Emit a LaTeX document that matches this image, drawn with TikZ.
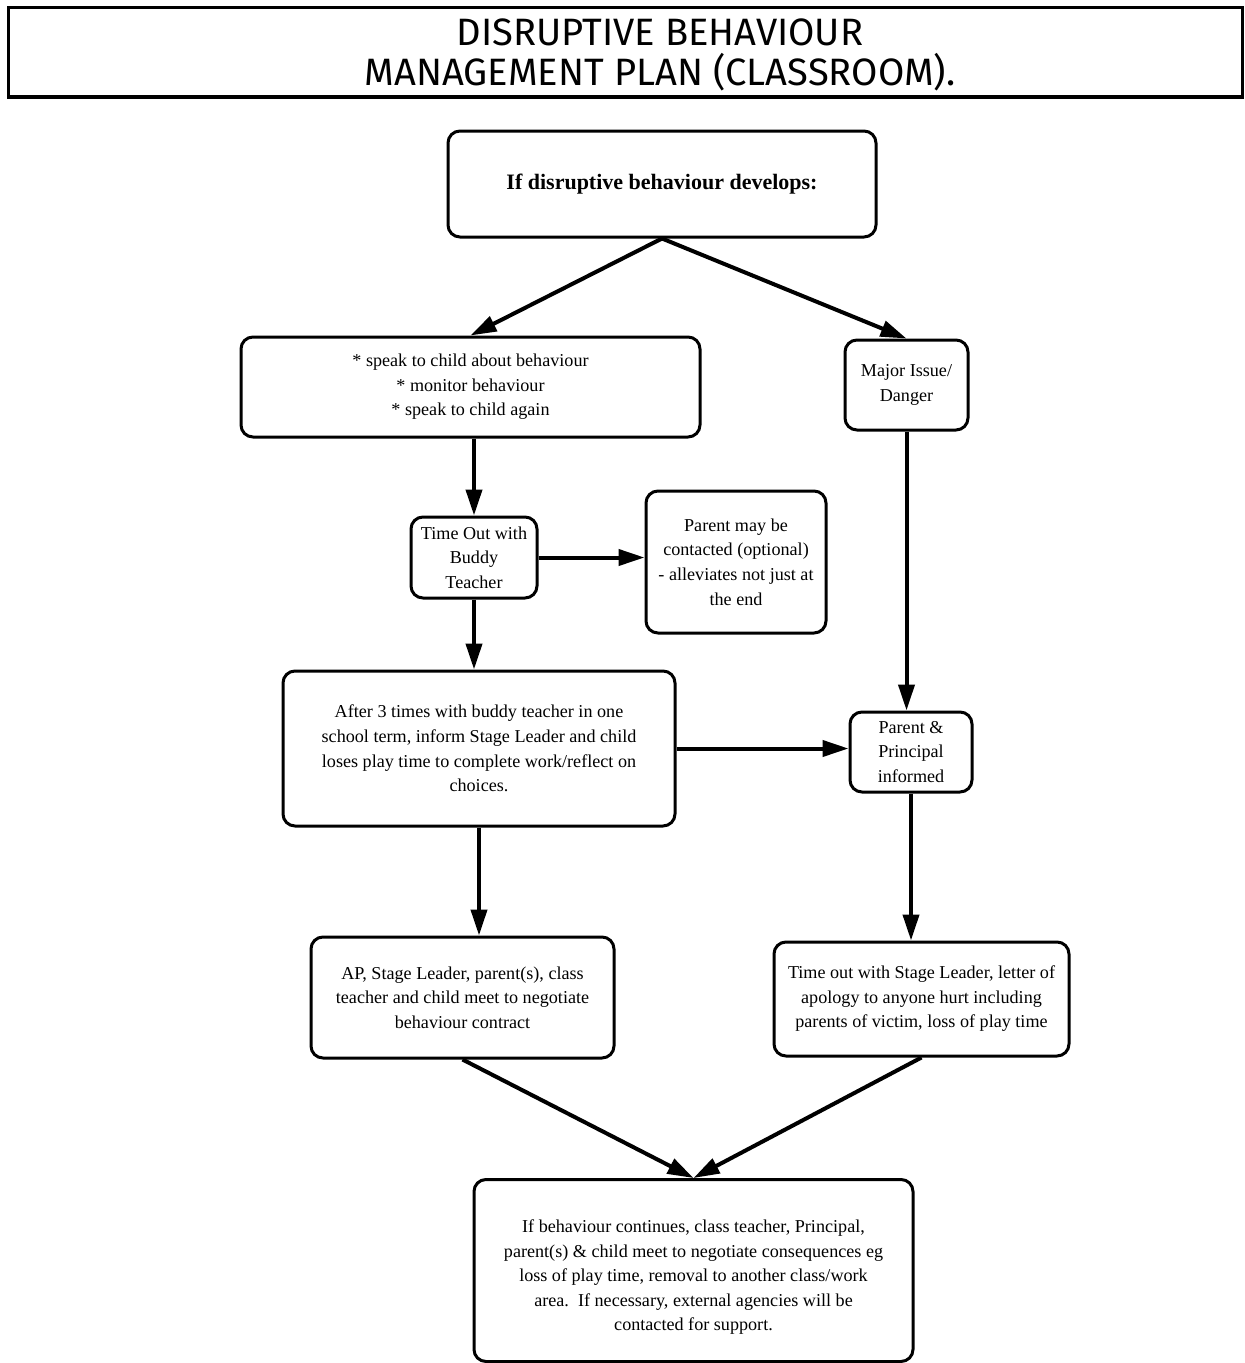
\documentclass[tikz,border=0pt]{standalone}
\usepackage{fontspec}
\setmainfont{Liberation Serif}
\newfontfamily\titlefont{Fira Sans}
\usetikzlibrary{arrows.meta}
\tikzset{
  box/.style={draw, rounded corners=9pt, line width=2.25pt, align=center, inner sep=0pt,
    font=\fontsize{13.6}{18.4}\selectfont},
  conn/.style={line width=3pt, -{Triangle[length=19.5pt,width=12pt]}},
  titlebox/.style={draw, line width=2.25pt},
  titletext/.style={font=\titlefont\fontsize{28.6}{30}\selectfont, align=center}
}
\begin{document}
\begin{tikzpicture}[x=0.75pt,y=-0.75pt]
\useasboundingbox (0,0) rectangle (1245,1363);
\draw[titlebox] (8,8) rectangle (1242,97);
\node[titletext] (title) at (660,55) {DISRUPTIVE BEHAVIOUR\\MANAGEMENT PLAN (CLASSROOM).};

\node[box, minimum width=321pt, minimum height=79.5pt, font=\bfseries\fontsize{16.5}{20}\selectfont] (top) at (662,184) {If disruptive behaviour develops:};
\node[box, minimum width=344.25pt, minimum height=75pt] (speak) at (470.5,387) {* speak to child about behaviour\\* monitor behaviour\\* speak to child again};
\node[box, minimum width=92.25pt, minimum height=67.5pt] (major) at (906.5,385) {Major Issue/\\Danger};
\node[box, minimum width=94.5pt, minimum height=60.75pt] (timeout) at (474,557.5) {Time Out with\\Buddy\\Teacher};
\node[box, minimum width=135pt, minimum height=106.5pt] (pmay) at (736,562) {Parent may be\\contacted (optional)\\- alleviates not just at\\the end};
\node[box, minimum width=294pt, minimum height=116.25pt] (after) at (479,748.5) {After 3 times with buddy teacher in one\\school term, inform Stage Leader and child\\loses play time to complete work/reflect on\\choices.};
\node[box, minimum width=91.5pt, minimum height=60pt] (pp) at (911,752) {Parent \&\\Principal\\informed};
\node[box, minimum width=227.25pt, minimum height=90.75pt] (ap) at (462.5,997.5) {AP, Stage Leader, parent(s), class\\teacher and child meet to negotiate\\behaviour contract};
\node[box, minimum width=221.25pt, minimum height=85.5pt] (tsl) at (921.5,999) {Time out with Stage Leader, letter of\\apology to anyone hurt including\\parents of victim, loss of play time};
\node[box, minimum width=329.25pt, minimum height=136.5pt] (bottom) at (693.5,1270.5) {\parbox{320pt}{\centering\fontsize{13.6}{18.4}\selectfont\vspace*{10pt}If behaviour continues, class teacher, Principal,\\parent(s) \& child meet to negotiate consequences eg\\loss of play time, removal to another class/work\\area.\ \ If necessary, external agencies will be\\contacted for support.}};

\draw[conn] (top.south) -- (speak.north);
\draw[conn] (top.south) -- (major.north);
\draw[conn] (timeout.north |- speak.south) -- (timeout.north);
\draw[conn] (timeout.east) -- (timeout.east -| pmay.west);
\draw[conn] (timeout.south) -- (timeout.south |- after.north);
\draw[conn] (after.east) -- (after.east -| pp.west);
\draw[conn] (major.south) -- (major.south |- pp.north);
\draw[conn] (after.south) -- (after.south |- ap.north);
\draw[conn] (pp.south) -- (pp.south |- tsl.north);
\draw[conn] (ap.south) -- (bottom.north);
\draw[conn] (tsl.south) -- (bottom.north);
\end{tikzpicture}
\end{document}
